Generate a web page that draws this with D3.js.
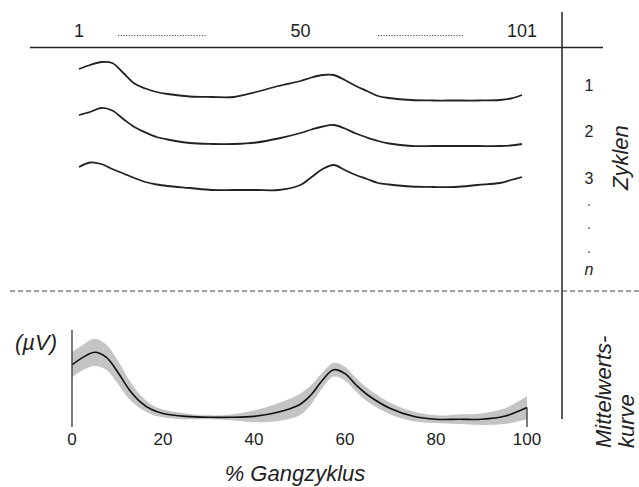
<!DOCTYPE html>
<html>
<head>
<meta charset="utf-8">
<script src="https://cdn.jsdelivr.net/npm/d3@7"></script>
<style>
  html, body { margin: 0; padding: 0; background: #fff; }
  svg { display: block; font-family: "Liberation Sans", Arial, sans-serif; }
</style>
</head>
<body>
<svg id="chart" width="639" height="487"></svg>
<script>
// ---------- data ----------
const cycleLabelsTop = ["1", "50", "101"];
const cycleTopPos = [0, 50, 100];
const cycleRowLabels = ["1", "2", "3"];
const cycleX = [0,2.5,5,7.5,10,12.5,15,17.5,20,25,30,35,40,45,50,52.5,55,57.5,60,62.5,65,67.5,70,75,80,85,90,95,97.5,100];
const cycle1 = [66,74,80,78,58,37,27,20,16,11,10,10,20,32,42,49,54,54,44,32,22,12,8,4,3,3,3,4,7,14];
const cycle2 = [64,70,78,73,56,40,29,20,15,8,6,6,9,17,28,35,41,44,37,27,19,12,7,2,2,2,2,2,3,6];
const cycle3 = [48,57,54,44,35,26,18,13,10,6,2,2,2,2,12,28,44,52,42,32,24,16,13,9,8,8,12,16,22,28];

const meanX = [0,2.5,5,7.5,10,12.5,15,17.5,20,25,30,35,40,45,50,52.5,55,57.5,60,62.5,65,70,75,80,85,90,95,100];
const meanVals = [64,72,77,72,57,39,26,18,14,11,10,10,11,15,23,33,48,59,55,43,33,19,11,8,8,8,11,20];
const sdVals   = [13,13,14,13,12,10,7,5,4,3,2,3,6,9,11,10,8,7,7,7,7,6,5,4,5,6,8,12];
const xTicks = [0,20,40,60,80,100];

// ---------- drawing ----------
const svg = d3.select("#chart");
const ink = "#222";

// structural lines
svg.append("line").attr("x1",30).attr("x2",603).attr("y1",47.5).attr("y2",47.5)
  .attr("stroke",ink).attr("stroke-width",1.5);
svg.append("line").attr("x1",562).attr("x2",562).attr("y1",12).attr("y2",419)
  .attr("stroke",ink).attr("stroke-width",1.5);
svg.append("line").attr("x1",10).attr("x2",639).attr("y1",291).attr("y2",291)
  .attr("stroke","#444").attr("stroke-width",1.2).attr("stroke-dasharray","5,3");

// cycles section
const xc = d3.scaleLinear().domain([0,100]).range([79,522]);
svg.selectAll("text.top").data(cycleLabelsTop).join("text")
  .attr("x",(d,i)=>xc(cycleTopPos[i])).attr("y",37)
  .attr("text-anchor","middle").attr("font-size",18).attr("fill",ink).text(d=>d);
[[118,207],[378,463]].forEach(([a,b])=>{
  svg.append("line").attr("x1",a).attr("x2",b).attr("y1",35.5).attr("y2",35.5)
    .attr("stroke","#555").attr("stroke-width",1).attr("stroke-dasharray","1.3,1.4");
});

const rowBases = [102,147,191];
[cycle1,cycle2,cycle3].forEach((vals,i)=>{
  const yr = d3.scaleLinear().domain([0,100]).range([rowBases[i], rowBases[i]-50]);
  const line = d3.line().x((d,j)=>xc(cycleX[j])).y(d=>yr(d)).curve(d3.curveCatmullRom);
  svg.append("path").attr("d",line(vals)).attr("fill","none")
    .attr("stroke",ink).attr("stroke-width",1.8);
});

const rowLabelY = [91,137,184];
svg.selectAll("text.row").data(cycleRowLabels).join("text")
  .attr("x",589).attr("y",(d,i)=>rowLabelY[i]).attr("text-anchor","middle")
  .attr("font-size",16).attr("fill",ink).text(d=>d);
[206,229,253].forEach(y=>{
  svg.append("text").attr("x",589).attr("y",y).attr("text-anchor","middle")
    .attr("font-size",14).attr("fill","#444").text(".");
});
svg.append("text").attr("x",589).attr("y",275).attr("text-anchor","middle")
  .attr("font-size",16).attr("font-style","italic").attr("fill",ink).text("n");
svg.append("text").attr("transform","translate(628,190) rotate(-90)")
  .attr("font-size",22).attr("font-style","italic").attr("fill",ink).text("Zyklen");

// mean curve section
const x = d3.scaleLinear().domain([0,100]).range([72,527]);
const y = d3.scaleLinear().domain([0,100]).range([427,330]);
const pts = meanX.map((t,i)=>({t, m: meanVals[i], s: sdVals[i]}));
const area = d3.area().x(d=>x(d.t)).y0(d=>y(d.m - d.s)).y1(d=>y(d.m + d.s)).curve(d3.curveCatmullRom);
svg.append("path").attr("d",area(pts)).attr("fill","#c4c4c4");
const mline = d3.line().x(d=>x(d.t)).y(d=>y(d.m)).curve(d3.curveCatmullRom);
svg.append("path").attr("d",mline(pts)).attr("fill","none").attr("stroke","#111").attr("stroke-width",1.6);

svg.append("line").attr("x1",x(0)).attr("x2",x(0)).attr("y1",y(100)).attr("y2",y(0))
  .attr("stroke","#444").attr("stroke-width",1.4);
svg.append("line").attr("x1",x(100)).attr("x2",x(100)).attr("y1",y(meanVals[meanVals.length-1])).attr("y2",y(0))
  .attr("stroke","#444").attr("stroke-width",1.4);

svg.selectAll("text.xt").data(xTicks).join("text")
  .attr("x",d=>x(d)).attr("y",445).attr("text-anchor","middle")
  .attr("font-size",17).attr("fill",ink).text(d=>d);

svg.append("text").attr("x",295).attr("y",481).attr("text-anchor","middle")
  .attr("font-size",22).attr("font-style","italic").attr("fill",ink).text("% Gangzyklus");
svg.append("text").attr("x",15).attr("y",350)
  .attr("font-size",22).attr("font-style","italic").attr("fill",ink).text("(µV)");
svg.append("text").attr("transform","translate(611,448) rotate(-90)")
  .attr("font-size",22).attr("font-style","italic").attr("fill",ink).text("Mittelwerts-");
svg.append("text").attr("transform","translate(634,448) rotate(-90)")
  .attr("font-size",22).attr("font-style","italic").attr("fill",ink).text("kurve");
</script>
</body>
</html>
